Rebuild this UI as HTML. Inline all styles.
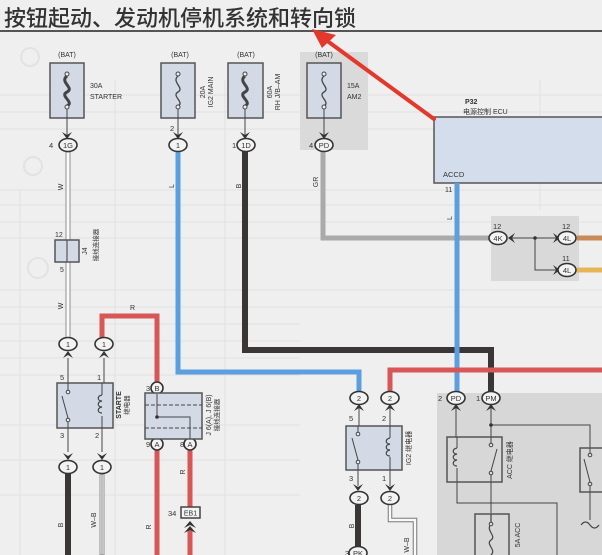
<!DOCTYPE html>
<html><head><meta charset="utf-8"><style>
html,body{margin:0;padding:0;background:#efefef;}
svg{display:block;}
text{font-family:"Liberation Sans","Noto Sans CJK SC",sans-serif;fill:#333;}
</style></head><body>
<svg width="602" height="555" viewBox="0 0 602 555" xmlns="http://www.w3.org/2000/svg">
<rect width="602" height="555" fill="#efefef"/>
<!-- faint table background -->
<g stroke="#e1e1e1" stroke-width="1" fill="none">
<line x1="0" y1="95" x2="602" y2="95"/><line x1="0" y1="112" x2="602" y2="112"/><line x1="0" y1="129" x2="602" y2="129"/>
<line x1="0" y1="190" x2="602" y2="190"/><line x1="0" y1="205" x2="602" y2="205"/><line x1="0" y1="222" x2="602" y2="222"/><line x1="0" y1="238" x2="430" y2="238"/>
<line x1="0" y1="290" x2="602" y2="290"/><line x1="0" y1="307" x2="602" y2="307"/><line x1="0" y1="324" x2="300" y2="324"/><line x1="0" y1="341" x2="300" y2="341"/>
<line x1="0" y1="358" x2="300" y2="358"/><line x1="0" y1="375" x2="300" y2="375"/><line x1="0" y1="425" x2="300" y2="425"/><line x1="0" y1="460" x2="300" y2="460"/><line x1="0" y1="495" x2="300" y2="495"/>
<line x1="115" y1="80" x2="115" y2="555"/><line x1="225" y1="80" x2="225" y2="555"/><line x1="20" y1="190" x2="20" y2="555"/><line x1="540" y1="80" x2="540" y2="210"/>
</g>
<g fill="none" stroke="#e2e2e2" stroke-width="2"><circle cx="30" cy="57" r="9"/><circle cx="33" cy="166" r="9"/><circle cx="38" cy="268" r="10"/></g>

<!-- title -->
<text x="4" y="26" font-size="22" style="font-family:'Noto Sans CJK SC',sans-serif;font-weight:500" fill="#333">按钮起动、发动机停机系统和转向锁</text>
<rect x="0" y="30" width="602" height="2" fill="#555"/>

<!-- gray shaded regions -->
<rect x="300" y="52" width="68" height="98" fill="#dadada"/>
<rect x="437" y="393" width="165" height="162" fill="#d7d7d7"/>
<rect x="491" y="216" width="88" height="65" fill="#d9d9d9"/>

<!-- ECU -->
<rect x="434" y="117" width="172" height="66" fill="#d3ddeb" stroke="#555" stroke-width="1.5"/>
<text x="465" y="104" font-size="7" font-weight="bold">P32</text>
<text x="463" y="114" font-size="7">电源控制 ECU</text>
<text x="443" y="177" font-size="7.5">ACCD</text>
<text x="445" y="192" font-size="7">11</text>

<!-- WIRES -->
<polyline points="323,150 323,238 492,238" fill="none" stroke="#aaaaaa" stroke-width="5"/>
<polyline points="178,150 178,372 359,372 359,392" fill="none" stroke="#5b9fdf" stroke-width="5"/>
<polyline points="245,150 245,350 491,350 491,392" fill="none" stroke="#3b3636" stroke-width="6"/>
<line x1="457" y1="183" x2="457" y2="392" stroke="#5b9fdf" stroke-width="5"/>
<polyline points="390,392 390,370 602,370" fill="none" stroke="#d95656" stroke-width="5"/>
<polyline points="102,338 102,316 157,316 157,383" fill="none" stroke="#d95656" stroke-width="5"/>
<line x1="157" y1="450" x2="157" y2="555" stroke="#d95656" stroke-width="5"/>
<line x1="190" y1="450" x2="190" y2="507" stroke="#d95656" stroke-width="5"/>
<line x1="190" y1="530" x2="190" y2="555" stroke="#d95656" stroke-width="5"/>
<g fill="#fafafa" stroke="#777" stroke-width="0.8">
<rect x="66" y="152" width="4" height="88"/><rect x="66" y="262" width="4" height="76"/>
<rect x="100" y="474" width="4" height="81"/>
</g>
<line x1="102" y1="474" x2="102" y2="555" stroke="#555" stroke-width="0.7"/>
<line x1="68" y1="474" x2="68" y2="555" stroke="#3b3636" stroke-width="6"/>
<line x1="358" y1="505" x2="358" y2="555" stroke="#3b3636" stroke-width="6"/>
<polyline points="390,505 390,520 415,520 415,555" fill="none" stroke="#777" stroke-width="4.5"/>
<polyline points="390,505 390,520 415,520 415,555" fill="none" stroke="#fafafa" stroke-width="2.5"/>
<line x1="577" y1="238" x2="602" y2="238" stroke="#c98a5a" stroke-width="5"/>
<line x1="577" y1="270" x2="602" y2="270" stroke="#e8b458" stroke-width="5"/>

<!-- FUSES -->
<g stroke="#555" stroke-width="1.5" fill="#d3dae6">
<rect x="50" y="63" width="34" height="55"/>
<rect x="161" y="63" width="34" height="55"/>
<rect x="228" y="63" width="35" height="55"/>
<rect x="307" y="63" width="34" height="55"/>
</g>
<g fill="none" stroke="#444">
<path d="M67,76 C59,82 75,88 67,92 C59,96 75,102 67,106" stroke-width="3"/>
<path d="M178,76 C171,82 185,88 178,92 C171,96 185,102 178,106" stroke-width="1.3"/>
<path d="M245,76 C237,82 253,88 245,92 C237,96 253,102 245,106" stroke-width="3"/>
<path d="M324,76 C317,82 331,88 324,92 C317,96 331,102 324,106" stroke-width="1.3"/>
</g>
<g fill="#eee" stroke="#444" stroke-width="1">
<circle cx="67" cy="74" r="2"/><circle cx="67" cy="107" r="2"/>
<circle cx="178" cy="74" r="2"/><circle cx="178" cy="107" r="2"/>
<circle cx="245" cy="74" r="2"/><circle cx="245" cy="107" r="2"/>
<circle cx="324" cy="74" r="2"/><circle cx="324" cy="107" r="2"/>
</g>
<g stroke="#444" stroke-width="1">
<line x1="67" y1="109" x2="67" y2="136"/><line x1="178" y1="109" x2="178" y2="136"/>
<line x1="245" y1="109" x2="245" y2="136"/><line x1="324" y1="109" x2="324" y2="136"/>
</g>
<g font-size="7" text-anchor="middle">
<text x="67" y="57">(BAT)</text><text x="180" y="57">(BAT)</text><text x="246" y="57">(BAT)</text><text x="324" y="57">(BAT)</text>
</g>
<text x="90" y="88" font-size="7">30A</text><text x="90" y="99" font-size="7">STARTER</text>
<text x="347" y="88" font-size="7">15A</text><text x="347" y="99" font-size="7">AM2</text>
<text transform="translate(205,92) rotate(-90)" font-size="7" text-anchor="middle">20A</text>
<text transform="translate(213,92) rotate(-90)" font-size="7" text-anchor="middle">IG2 MAIN</text>
<text transform="translate(272,92) rotate(-90)" font-size="7" text-anchor="middle">60A</text>
<text transform="translate(280,92) rotate(-90)" font-size="7" text-anchor="middle">RH J/B–AM</text>

<!-- chevrons -->
<g fill="#333">
<polygon points="62,132 67,139 72,132 67,135"/>
<polygon points="173,132 178,139 183,132 178,135"/>
<polygon points="240,132 245,139 250,132 245,135"/>
<polygon points="319,132 324,139 329,132 324,135"/>
<polygon points="63,358 68,351 73,358 68,355"/>
<polygon points="99,358 104,351 109,358 104,355"/>
<polygon points="63,453 68,460 73,453 68,456"/>
<polygon points="97,453 102,460 107,453 102,456"/>
<polygon points="354,411 359,404 364,411 359,408"/>
<polygon points="385,411 390,404 395,411 390,408"/>
<polygon points="353,484 358,491 363,484 358,487"/>
<polygon points="385,484 390,491 395,484 390,487"/>
<polygon points="451,411 456,404 461,411 456,408"/>
<polygon points="486,411 491,404 496,411 491,408"/>
<polygon points="515,233 508,238 515,243 512,238"/>
<polygon points="553,233 560,238 553,243 556,238"/>
<polygon points="553,265 560,270 553,275 556,270"/>
<polygon points="184,528 190,521 196,528 190,525"/>
<polygon points="184,533 190,526 196,533 190,530"/>
</g>

<!-- connectors -->
<g fill="#f3f3f3" stroke="#333" stroke-width="1.6">
<ellipse cx="68" cy="145" rx="9" ry="6.5"/>
<ellipse cx="178" cy="145" rx="9" ry="6.5"/>
<ellipse cx="246" cy="145" rx="9" ry="6.5"/>
<ellipse cx="324" cy="145" rx="9" ry="6.5"/>
<ellipse cx="68" cy="344" rx="9" ry="6.5"/>
<ellipse cx="104" cy="344" rx="9" ry="6.5"/>
<ellipse cx="68" cy="467" rx="9" ry="6.5"/>
<ellipse cx="102" cy="467" rx="9" ry="6.5"/>
<ellipse cx="359" cy="398" rx="9" ry="6.5"/>
<ellipse cx="390" cy="398" rx="9" ry="6.5"/>
<ellipse cx="359" cy="498" rx="9" ry="6.5"/>
<ellipse cx="390" cy="498" rx="9" ry="6.5"/>
<ellipse cx="456" cy="398" rx="9" ry="6.5"/>
<ellipse cx="491" cy="398" rx="9" ry="6.5"/>
<ellipse cx="498" cy="238" rx="9" ry="6.5"/>
<ellipse cx="567" cy="238" rx="9" ry="6.5"/>
<ellipse cx="567" cy="270" rx="9" ry="6.5"/>
<ellipse cx="358" cy="553" rx="9" ry="6.5"/>
<circle cx="157" cy="388" r="6"/>
<circle cx="157" cy="444" r="6"/>
<circle cx="190" cy="444" r="6"/>
</g>
<g font-size="7.5" text-anchor="middle">
<text x="68" y="148">1G</text><text x="178" y="148">1</text><text x="246" y="148">1D</text><text x="324" y="148">PD</text>
<text x="68" y="347">1</text><text x="104" y="347">1</text><text x="68" y="470">1</text><text x="102" y="470">1</text>
<text x="359" y="401">2</text><text x="390" y="401">2</text><text x="359" y="501">2</text><text x="390" y="501">2</text>
<text x="456" y="401">PD</text><text x="491" y="401">PM</text>
<text x="498" y="241">4K</text><text x="567" y="241">4L</text><text x="567" y="273">4L</text>
<text x="358" y="556">PK</text>
<text x="157" y="391">B</text><text x="157" y="447">A</text><text x="190" y="447">A</text>
</g>
<g font-size="7.5">
<text x="49" y="148">4</text><text x="170" y="131">2</text><text x="232" y="148">1</text><text x="309" y="148">4</text>
<text x="146" y="391">3</text><text x="146" y="447">9</text><text x="180" y="447">8</text>
<text x="438" y="401">2</text><text x="476" y="401">1</text>
<text x="493" y="229">12</text><text x="562" y="229">12</text><text x="562" y="261">11</text>
<text x="345" y="556">3</text>
</g>

<!-- J4 -->
<rect x="55" y="240" width="24" height="22" fill="#d3dae6" stroke="#555" stroke-width="1.5"/>
<line x1="67" y1="240" x2="67" y2="262" stroke="#555" stroke-width="1.2"/>
<text x="55" y="237" font-size="7">12</text><text x="60" y="272" font-size="7">5</text>
<text transform="translate(87,251) rotate(-90)" font-size="7" text-anchor="middle">J4</text>
<text transform="translate(98,245) rotate(-90)" font-size="6.5" text-anchor="middle">接线连接器</text>

<!-- STARTER relay -->
<g stroke="#444" stroke-width="1">
<line x1="68" y1="358" x2="68" y2="383"/><line x1="104" y1="358" x2="104" y2="383"/>
<line x1="68" y1="428" x2="68" y2="452"/><line x1="102" y1="428" x2="102" y2="452"/>
</g>
<rect x="57" y="383" width="56" height="45" fill="#d3dae6" stroke="#555" stroke-width="1.5"/>
<g stroke="#444" stroke-width="1" fill="none">
<line x1="68" y1="383" x2="68" y2="392"/><line x1="68" y1="420" x2="68" y2="428"/>
<line x1="62" y1="396" x2="68" y2="418"/>
<circle cx="68" cy="392" r="1.8" fill="#eee"/><circle cx="68" cy="420" r="1.8" fill="#eee"/>
<line x1="102" y1="383" x2="102" y2="395"/><line x1="102" y1="416" x2="102" y2="428"/>
<path d="M102,395 c-5,1 -5,6 0,6 c-5,1 -5,6 0,6 c-5,1 -5,6 0,6" stroke-width="1.2"/>
</g>
<g font-size="7.5"><text x="60" y="380">5</text><text x="97" y="380">1</text><text x="60" y="438">3</text><text x="95" y="438">2</text></g>
<text transform="translate(121,405) rotate(-90)" font-size="7" font-weight="bold" text-anchor="middle">STARTE</text>
<text transform="translate(129,405) rotate(-90)" font-size="6.5" text-anchor="middle">继电器</text>
<text transform="translate(63,187) rotate(-90)" font-size="7" text-anchor="middle">W</text>
<text transform="translate(63,306) rotate(-90)" font-size="7" text-anchor="middle">W</text>
<text transform="translate(63,525) rotate(-90)" font-size="7" text-anchor="middle">B</text>
<text transform="translate(96,520) rotate(-90)" font-size="7" text-anchor="middle">W–B</text>

<!-- J6 -->
<rect x="145" y="393" width="57" height="46" fill="#d3dae6" stroke="#555" stroke-width="1.5"/>
<g stroke="#444" stroke-width="1" fill="none">
<line x1="145" y1="405" x2="202" y2="405" stroke-dasharray="4,2"/>
<line x1="145" y1="428" x2="202" y2="428" stroke-dasharray="4,2"/>
<polyline points="157,394 157,417 190,417 190,439"/>
</g>
<circle cx="157" cy="417" r="1.8" fill="#333"/>
<text transform="translate(211,415) rotate(-90)" font-size="7" text-anchor="middle">J 6(A), J 6(B)</text>
<text transform="translate(219,415) rotate(-90)" font-size="6.5" text-anchor="middle">接线连接器</text>
<text x="130" y="310" font-size="7">R</text>
<text transform="translate(185,472) rotate(-90)" font-size="7" text-anchor="middle">R</text>
<text transform="translate(151,527) rotate(-90)" font-size="7" text-anchor="middle">R</text>
<rect x="181" y="507" width="19" height="11" fill="#f3f3f3" stroke="#444" stroke-width="1.5"/>
<text x="190.5" y="515.5" font-size="7" text-anchor="middle">EB1</text>
<text x="168" y="516" font-size="7.5">34</text>

<!-- wire labels -->
<text transform="translate(174,186) rotate(-90)" font-size="7" text-anchor="middle">L</text>
<text transform="translate(241,186) rotate(-90)" font-size="7" text-anchor="middle">B</text>
<text transform="translate(318,182) rotate(-90)" font-size="7" text-anchor="middle">GR</text>
<text transform="translate(452,218) rotate(-90)" font-size="7" text-anchor="middle">L</text>
<text transform="translate(354,526) rotate(-90)" font-size="7" text-anchor="middle">B</text>
<text transform="translate(409,545) rotate(-90)" font-size="7" text-anchor="middle">W–B</text>

<!-- 4K/4L lines -->
<g stroke="#444" stroke-width="1" fill="none">
<line x1="512" y1="238" x2="556" y2="238"/>
<polyline points="535,238 535,270 556,270"/>
</g>
<circle cx="535" cy="238" r="1.8" fill="#333"/>

<!-- IG2 relay -->
<g stroke="#444" stroke-width="1">
<line x1="359" y1="408" x2="359" y2="426"/><line x1="390" y1="408" x2="390" y2="426"/>
<line x1="358" y1="470" x2="358" y2="486"/><line x1="390" y1="470" x2="390" y2="486"/>
</g>
<rect x="346" y="426" width="56" height="44" fill="#d3dae6" stroke="#555" stroke-width="1.5"/>
<g stroke="#444" stroke-width="1" fill="none">
<line x1="358" y1="426" x2="358" y2="434"/><line x1="358" y1="462" x2="358" y2="470"/>
<line x1="352" y1="438" x2="358" y2="460"/>
<circle cx="358" cy="434" r="1.8" fill="#eee"/><circle cx="358" cy="462" r="1.8" fill="#eee"/>
<line x1="390" y1="426" x2="390" y2="438"/><line x1="390" y1="457" x2="390" y2="470"/>
<path d="M390,438 c-5,1 -5,6 0,6 c-5,1 -5,6 0,6 c-5,1 -5,6 0,6" stroke-width="1.2"/>
</g>
<g font-size="7.5"><text x="349" y="421">5</text><text x="382" y="421">2</text><text x="349" y="481">3</text><text x="382" y="481">1</text></g>
<text transform="translate(411,448) rotate(-90)" font-size="7" text-anchor="middle">IG2 继电器</text>

<!-- ACC relay region -->
<g stroke="#444" stroke-width="1" fill="none">
<line x1="456" y1="408" x2="456" y2="437"/>
<line x1="491" y1="408" x2="491" y2="437"/>
<polyline points="491,425 590,425 590,448"/>
<polyline points="457,482 457,503 557,503 557,555"/>
<line x1="491" y1="482" x2="491" y2="513"/>
<line x1="590" y1="492" x2="590" y2="520"/>
<path d="M581,525 c3,-4 6,-4 9,0 c3,4 6,4 9,0" stroke-width="1.2"/>
</g>
<circle cx="491" cy="425" r="1.8" fill="#333"/>
<rect x="447" y="437" width="55" height="45" fill="none" stroke="#555" stroke-width="1.5"/>
<g stroke="#444" stroke-width="1" fill="none">
<line x1="457" y1="437" x2="457" y2="448"/><line x1="457" y1="468" x2="457" y2="482"/>
<path d="M457,448 c-5,1 -5,6 0,6 c-5,1 -5,6 0,6 c-5,1 -5,6 0,6" stroke-width="1.2"/>
<line x1="491" y1="437" x2="491" y2="445"/><line x1="491" y1="473" x2="491" y2="482"/>
<line x1="497" y1="449" x2="491" y2="471"/>
<circle cx="491" cy="445" r="1.8" fill="#ddd"/><circle cx="491" cy="473" r="1.8" fill="#ddd"/>
</g>
<text transform="translate(512,460) rotate(-90)" font-size="7" text-anchor="middle">ACC 继电器</text>
<rect x="580" y="448" width="30" height="44" fill="none" stroke="#555" stroke-width="1.5"/>
<g stroke="#444" stroke-width="1" fill="none">
<line x1="590" y1="448" x2="590" y2="455"/><line x1="584" y1="459" x2="590" y2="482"/>
<circle cx="590" cy="455" r="1.8" fill="#ddd"/><circle cx="590" cy="484" r="1.8" fill="#ddd"/>
<line x1="590" y1="486" x2="590" y2="492"/>
</g>
<rect x="475" y="514" width="34" height="50" fill="none" stroke="#555" stroke-width="1.5"/>
<g stroke="#444" stroke-width="1.2" fill="none">
<line x1="491" y1="514" x2="491" y2="524"/>
<path d="M491,524 C485,530 497,536 491,540 C485,544 497,550 491,555"/>
</g>
<circle cx="491" cy="524" r="1.8" fill="#ddd" stroke="#444" stroke-width="1"/>
<text transform="translate(520,535) rotate(-90)" font-size="7" text-anchor="middle">5A ACC</text>

<!-- red annotation arrow -->
<line x1="434" y1="119" x2="326" y2="40" stroke="#e2392c" stroke-width="4" stroke-linecap="round"/>
<polygon points="312,29 336,35 322,48" fill="#e2392c"/>
</svg>
</body></html>
